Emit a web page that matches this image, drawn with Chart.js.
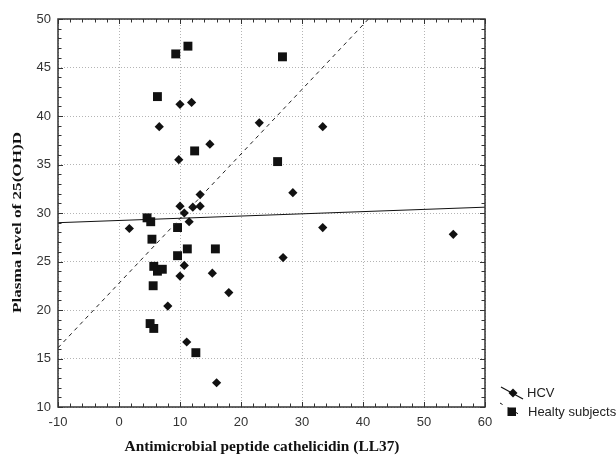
<!DOCTYPE html>
<html>
<head>
<meta charset="utf-8">
<script src="https://cdn.jsdelivr.net/npm/chart.js@4/dist/chart.umd.min.js"></script>
<style>
  html, body { margin: 0; padding: 0; background: #fff; }
  canvas { display: block; }
</style>
</head>
<body>
<canvas id="chart" width="616" height="456"></canvas>
<script>
// LL37 (x) and plasma 25(OH)D (y) for each group
const hcvLL37 = [10.0, 11.9, 6.6, 23.0, 14.9, 9.8, 28.5, 13.3, 10.0, 12.1, 13.3, 10.7, 11.5, 1.7, 33.4, 33.4, 10.7, 10.0, 15.3, 18.0, 8.0, 11.1, 16.0, 26.9, 54.8];
const hcvVitD  = [41.2, 41.4, 38.9, 39.3, 37.1, 35.5, 32.1, 31.9, 30.7, 30.6, 30.7, 30.0, 29.1, 28.4, 38.9, 28.5, 24.6, 23.5, 23.8, 21.8, 20.4, 16.7, 12.5, 25.4, 27.8];

const healthyLL37 = [9.3, 11.3, 26.8, 6.3, 12.4, 26.0, 4.6, 5.2, 9.6, 5.4, 11.2, 15.8, 9.6, 5.7, 6.3, 7.1, 5.6, 5.1, 5.7, 12.6];
const healthyVitD = [46.4, 47.2, 46.1, 42.0, 36.4, 35.3, 29.5, 29.1, 28.5, 27.3, 26.3, 26.3, 25.6, 24.5, 24.0, 24.2, 22.5, 18.6, 18.1, 15.6];

// Linear fit end points for each group
const hcvFitX = [-10, 60];
const hcvFitY = [29.0, 30.6];
const healthyFitX = [-10, 40.9];
const healthyFitY = [16.1, 50];

// Axis ticks and labels
const xTickValues = [-10, 0, 10, 20, 30, 40, 50, 60];
const yTickValues = [10, 15, 20, 25, 30, 35, 40, 45, 50];
const seriesNames = ['HCV', 'Healty subjects'];
const xTitle = 'Antimicrobial peptide cathelicidin (LL37)';
const yTitle = 'Plasma level of 25(OH)D';

const toPoints = (xs, ys) => xs.map((x, i) => ({ x: x, y: ys[i] }));

const INK = '#111';
const TICK_FONT = { family: 'Liberation Sans, Arial, sans-serif', size: 13 };
const SERIF_BOLD = '"Liberation Serif", "Times New Roman", serif';

// Draws text centred at (0,0), stretched along its run to a given length
function stretchedText(ctx, text, length) {
  const w = ctx.measureText(text).width;
  ctx.save();
  ctx.scale(length / w, 1);
  ctx.textAlign = 'center';
  ctx.fillText(text, 0, 0);
  ctx.restore();
}

// Box frame, inward minor ticks, axis titles and the legend
const decorations = {
  id: 'decorations',
  afterDatasetsDraw(chart) {
    const { ctx, chartArea: a, scales } = chart;
    const xs = scales.x, ys = scales.y;
    ctx.save();

    // frame
    ctx.strokeStyle = '#333';
    ctx.lineWidth = 1.5;
    ctx.strokeRect(a.left, a.top, a.right - a.left, a.bottom - a.top);

    // minor ticks
    ctx.lineWidth = 1;
    ctx.strokeStyle = '#333';
    ctx.beginPath();
    for (let v = xs.min; v <= xs.max + 1e-9; v += 2) {
      const px = Math.round(xs.getPixelForValue(v)) + 0.5;
      const len = (v % 10 === 0) ? 5 : 3.5;
      ctx.moveTo(px, a.bottom); ctx.lineTo(px, a.bottom - len);
      ctx.moveTo(px, a.top); ctx.lineTo(px, a.top + len);
    }
    for (let v = ys.min; v <= ys.max + 1e-9; v += 1) {
      const py = Math.round(ys.getPixelForValue(v)) + 0.5;
      const len = (v % 5 === 0) ? 5 : 3.5;
      ctx.moveTo(a.left, py); ctx.lineTo(a.left + len, py);
      ctx.moveTo(a.right, py); ctx.lineTo(a.right - len, py);
    }
    ctx.stroke();

    // axis titles
    ctx.fillStyle = INK;
    ctx.textBaseline = 'alphabetic';

    ctx.save();
    ctx.font = 'bold 15px ' + SERIF_BOLD;
    ctx.translate(262, 451);
    stretchedText(ctx, xTitle, 275);
    ctx.restore();

    ctx.save();
    ctx.font = 'bold 13px ' + SERIF_BOLD;
    ctx.translate(20.5, 222.5);
    ctx.rotate(-Math.PI / 2);
    stretchedText(ctx, yTitle, 181);
    ctx.restore();

    // legend
    ctx.font = '13px "Liberation Sans", Arial, sans-serif';
    ctx.textAlign = 'left';
    ctx.textBaseline = 'middle';
    ctx.strokeStyle = INK;

    // HCV: solid line with a diamond
    ctx.lineWidth = 1.2;
    ctx.setLineDash([]);
    ctx.beginPath(); ctx.moveTo(501, 387); ctx.lineTo(523, 399); ctx.stroke();
    ctx.fillStyle = INK;
    ctx.beginPath();
    ctx.moveTo(513, 388.5); ctx.lineTo(517.5, 393); ctx.lineTo(513, 397.5); ctx.lineTo(508.5, 393);
    ctx.closePath(); ctx.fill();
    ctx.fillStyle = '#222';
    ctx.fillText(seriesNames[0], 527, 393.5);

    // Healthy: dashed line with a square
    ctx.setLineDash([3, 6]);
    ctx.lineWidth = 1;
    ctx.beginPath(); ctx.moveTo(500, 403); ctx.lineTo(521, 415.5); ctx.stroke();
    ctx.setLineDash([]);
    ctx.fillStyle = INK;
    ctx.fillRect(507.5, 407.5, 8.5, 8.5);
    ctx.fillStyle = '#222';
    ctx.fillText(seriesNames[1], 528, 412);

    ctx.restore();
  }
};

new Chart(document.getElementById('chart'), {
  type: 'scatter',
  data: {
    datasets: [
      {
        label: seriesNames[0] + ' fit',
        data: toPoints(hcvFitX, hcvFitY),
        showLine: true,
        borderColor: INK,
        borderWidth: 1,
        pointRadius: 0,
        fill: false
      },
      {
        label: seriesNames[1] + ' fit',
        data: toPoints(healthyFitX, healthyFitY),
        showLine: true,
        borderColor: '#222',
        borderWidth: 1,
        borderDash: [4, 4],
        pointRadius: 0,
        fill: false
      },
      {
        label: seriesNames[0],
        data: toPoints(hcvLL37, hcvVitD),
        pointStyle: 'rectRot',
        pointRadius: 4.6,
        backgroundColor: INK,
        borderColor: INK,
        borderWidth: 0
      },
      {
        label: seriesNames[1],
        data: toPoints(healthyLL37, healthyVitD),
        pointStyle: 'rect',
        pointRadius: 6.3,
        backgroundColor: INK,
        borderColor: INK,
        borderWidth: 0
      }
    ]
  },
  options: {
    responsive: false,
    devicePixelRatio: 1,
    animation: false,
    layout: { padding: { left: 0, right: 131, top: 19, bottom: 0 } },
    plugins: {
      legend: { display: false },
      tooltip: { enabled: false }
    },
    scales: {
      x: {
        type: 'linear',
        min: -10, max: 60,
        afterBuildTicks: (s) => { s.ticks = xTickValues.map(v => ({ value: v })); },
        afterFit: (s) => { s.height = 49; },
        ticks: { color: '#333', font: TICK_FONT, padding: 8, maxRotation: 0 },
        grid: { color: '#b4b4b4', lineWidth: 1, drawTicks: false },
        border: { display: false, dash: [1, 2] },
        title: { display: false }
      },
      y: {
        type: 'linear',
        min: 10, max: 50,
        afterBuildTicks: (s) => { s.ticks = yTickValues.map(v => ({ value: v })); },
        afterFit: (s) => { s.width = 58; },
        ticks: { color: '#333', font: TICK_FONT, padding: 7 },
        grid: { color: '#b4b4b4', lineWidth: 1, drawTicks: false },
        border: { display: false, dash: [1, 2] },
        title: { display: false }
      }
    }
  },
  plugins: [decorations]
});
</script>
</body>
</html>
